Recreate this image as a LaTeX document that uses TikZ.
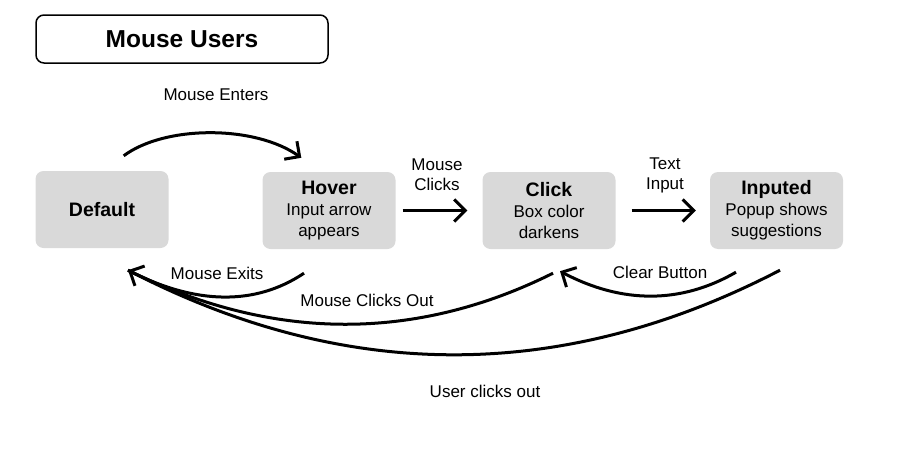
\documentclass[tikz,border=0pt]{standalone}
\usepackage{fontspec}
\setmainfont{Liberation Sans}
\usetikzlibrary{arrows.meta,calc}
\definecolor{boxgray}{HTML}{D9D9D9}
\begin{document}
\begin{tikzpicture}[x=1pt,y=-1pt,
  state/.style={fill=boxgray, rounded corners=8pt, minimum width=133pt, minimum height=77pt, inner sep=0pt, align=center, font=\fontsize{17}{21}\selectfont},
  conn/.style={line width=3pt, -{Straight Barb[length=11pt,width=22pt]}},
  plainconn/.style={line width=3pt},
  lbl/.style={font=\fontsize{17}{20}\selectfont, align=center, inner sep=0pt},
  ttl/.style={font=\fontsize{19.5}{22}\selectfont\bfseries}
]
\useasboundingbox (0,0) rectangle (916,450);
\node[draw=black, line width=1.5pt, fill=white, rounded corners=8pt, minimum width=292pt, minimum height=48pt, inner sep=0pt, font=\fontsize{24.5}{28}\selectfont\bfseries] (title) at (182,39) {Mouse Users};

\node[state] (default) at (102,209.5) {{\fontsize{19.5}{22}\selectfont\bfseries Default}};
\node[state] (hover) at (329,210.5) {{\fontsize{19.5}{22}\selectfont\bfseries Hover}\\Input arrow\\appears};
\node[state] (click) at (549,210.5) {{\fontsize{19.5}{22}\selectfont\bfseries Click}\\Box color\\darkens};
\node[state] (inputed) at (776.5,210.5) {{\fontsize{19.5}{22}\selectfont\bfseries Inputed}\\Popup shows\\suggestions};

% forward transitions
\draw[conn] ([shift={(-45,-15)}]default.north east) .. controls (165,125) and (255,125) .. ([shift={(39,-14)}]hover.north west);
\node[lbl] (lenter) at (216,95) {Mouse Enters};

\draw[conn] ([xshift=7pt]hover.east) -- ([xshift=-15pt]click.west);
\node[lbl] (lclicks) at (437,175) {Mouse\\Clicks};

\draw[conn] ([xshift=16pt]click.east) -- ([xshift=-14pt]inputed.west);
\node[lbl] (ltext) at (665,175) {Text\\Input};

% return transitions
\coordinate (tipD) at ([shift={(26,22)}]default.south);
\draw[plainconn] ([shift={(-25,24)}]hover.south) .. controls (255,306) and (195,305) .. (tipD);
\node[lbl] (lexit) at (217,273) {Mouse Exits};

\draw[conn] ([shift={(4,24)}]click.south) .. controls (415,342) and (273,341) .. (tipD);
\node[lbl] (lcout) at (367,300) {Mouse Clicks Out};

\draw[plainconn] ([shift={(3.5,21)}]inputed.south) .. controls (563,383) and (345,383) .. (tipD);
\node[lbl] (luser) at (485,391) {User clicks out};

\draw[conn] ([shift={(-40.5,23)}]inputed.south) .. controls (681,304) and (622,304) .. ([shift={(11,22)}]click.south);
\node[lbl] (lclear) at (660,272) {Clear Button};
\end{tikzpicture}
\end{document}
